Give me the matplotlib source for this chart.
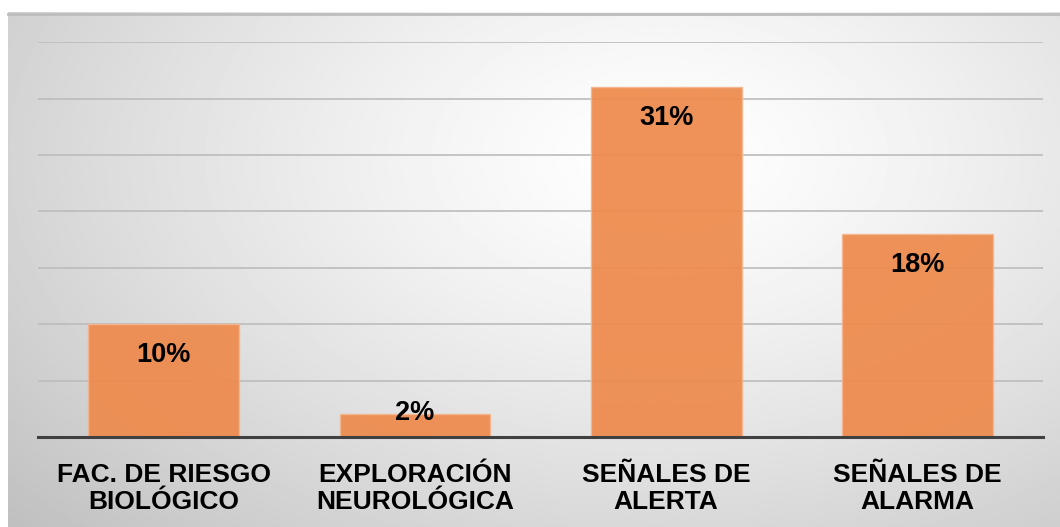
import matplotlib as mpl
mpl.use('Agg')
import matplotlib.pyplot as plt
import numpy as np

categorias = ["FAC. DE RIESGO\nBIOLÓGICO", "EXPLORACIÓN\nNEUROLÓGICA", "SEÑALES DE\nALERTA", "SEÑALES DE\nALARMA"]
valores = [10, 2, 31, 18]
etiquetas = ["10%", "2%", "31%", "18%"]

plt.rcParams['font.family'] = ['Liberation Sans', 'DejaVu Sans']

W, H = 1060, 527
fig = plt.figure(figsize=(W / 100, H / 100), dpi=100)

# fondo con degradado radial (gris en bordes, blanco al centro)
bg = fig.add_axes([8 / W, 0, 1 - 8 / W, (H - 12) / H])
yy, xx = np.mgrid[0:1:300j, 0:1:600j]
cx, cy = 0.62, 0.72
d = np.sqrt(((xx - cx) / 0.75) ** 2 + ((yy - cy) / 0.95) ** 2)
d = np.clip(d / d.max(), 0, 1)
gris = 1 - 0.25 * d ** 1.3
bg.imshow(gris, cmap='gray', vmin=0, vmax=1, origin='lower', aspect='auto',
          extent=[0, 1, 0, 1], interpolation='bilinear')
bg.set_xlim(0, 1)
bg.set_ylim(0, 1)
bg.axis('off')
bg.plot([0, 1], [0.997, 0.997], color='#bdbdbd', lw=2, transform=bg.transAxes, clip_on=False)

ax = fig.add_axes([38 / W, 1 - 437 / H, (1043 - 38) / W, (437 - 42.2) / H])
ax.patch.set_alpha(0)
x = np.arange(len(categorias))
ax.bar(x, valores, width=0.6, color='#ED8A4C', alpha=0.93, edgecolor='#F4B690', linewidth=1, zorder=3)
ax.set_xlim(-0.5, len(categorias) - 0.5)
ax.set_ylim(0, 35)
ax.set_yticks(np.arange(0, 36, 5))
ax.yaxis.grid(True, color='#bcbcbc', linewidth=1.2, zorder=1)
ax.set_axisbelow(True)
ax.tick_params(axis='y', left=False, labelleft=False)
ax.tick_params(axis='x', bottom=False, pad=15)
ax.set_xticks(x)
ax.set_xticklabels(categorias, fontsize=19, fontweight='bold', linespacing=1.2)
for s in ['top', 'right', 'left']:
    ax.spines[s].set_visible(False)
ax.spines['bottom'].set_color('#404040')
ax.spines['bottom'].set_linewidth(2.2)
ax.spines['bottom'].set_zorder(4)

for xi, v, t in zip(x, valores, etiquetas):
    if v < 5:
        ax.annotate(t, (xi, v), xytext=(0, 1), textcoords='offset points',
                    ha='center', va='center', fontsize=19.5, fontweight='bold', zorder=5)
    else:
        ax.annotate(t, (xi, v), xytext=(0, -22), textcoords='offset points',
                    ha='center', va='center', fontsize=19.5, fontweight='bold', zorder=5)

fig.savefig('out.png', dpi=100)
